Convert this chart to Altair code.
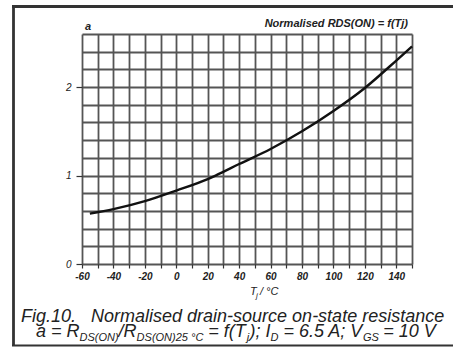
import altair as alt
import pandas as pd

# ---- data ----
temps = [-55, -40, -20, 0, 20, 25, 40, 60, 80, 100, 120, 140, 150]
ratio = [0.57, 0.62, 0.71, 0.83, 0.96, 1.0, 1.13, 1.30, 1.50, 1.73, 1.99, 2.30, 2.46]

x_grid = list(range(-60, 151, 10))
y_grid = [round(i * 0.2, 1) for i in range(14)]

df = pd.DataFrame({"T": temps, "a": ratio})

OX, OY = 82, 34          # plot origin in page pixels
W, H = 330, 230
FONT = "Liberation Sans"
INK = "#222"
NB = "\u00a0"

x_scale = alt.Scale(domain=[-60, 150], nice=False, zero=False)
y_scale = alt.Scale(domain=[0, 2.6], nice=False)

curve = alt.Chart(df).mark_line(color="#111", strokeWidth=2.4, interpolate="monotone").encode(
    x=alt.X("T:Q", scale=x_scale, axis=alt.Axis(
        values=x_grid, title=None, grid=True, gridColor="#555", gridWidth=1.8,
        domain=False, tickColor="#333", tickSize=4, tickWidth=1.2,
        labelExpr="(datum.value % 20 === 0 && datum.value <= 140) ? datum.value : ''",
        labelFont=FONT, labelFontSize=10, labelFontStyle="italic", labelFontWeight="bold",
        labelColor=INK, labelPadding=3, labelFlush=False, labelOverlap=False)),
    y=alt.Y("a:Q", scale=y_scale, axis=alt.Axis(
        values=y_grid, title=None, grid=True, gridColor="#555", gridWidth=1.8,
        domain=False, tickColor="#333", tickSize=6, tickWidth=1.2,
        tickOpacity={"condition": {"test": "datum.value % 1 === 0", "value": 1}, "value": 0},
        labelExpr="datum.value % 1 === 0 ? datum.value : ''",
        labelFont=FONT, labelFontSize=10, labelFontStyle="italic",
        labelColor=INK, labelPadding=5, labelFlush=False, labelOverlap=False)),
)


def txt(s, ax, ay, size, weight="normal", align="left", style="italic"):
    return alt.Chart(pd.DataFrame({"t": [s]})).mark_text(
        font=FONT, fontSize=size, fontStyle=style, fontWeight=weight, align=align,
        baseline="alphabetic", color=INK,
    ).encode(x=alt.value(ax - OX), y=alt.value(ay - OY), text="t:N")


def rule(x1, y1, x2, y2, w):
    return alt.Chart(pd.DataFrame({"k": [0]})).mark_rule(color="#333", strokeWidth=w).encode(
        x=alt.value(x1 - OX), x2=alt.value(x2 - OX), y=alt.value(y1 - OY), y2=alt.value(y2 - OY))


texts = [
    txt("a", 85, 30, 11, weight="bold"),
    txt("Normalised RDS(ON) = f(Tj)", 408, 27, 11, weight="bold", align="right"),
    # x axis title
    txt("T", 250, 295, 11),
    txt("j", 256, 298, 8),
    txt("/" + NB + "°C", 260, 295, 11),
    # caption line 1
    txt("Fig.10." + NB * 3 + "Normalised drain-source on-state resistance", 21, 322, 18),
    # caption line 2
    txt("a = R", 36, 337, 18),
    txt("DS(ON)", 79.5, 341, 11),
    txt("/R", 118.6, 337, 18),
    txt("DS(ON)25 °C", 136.6, 341, 11),
    txt("= f(T", 208.3, 337, 18),
    txt("j", 246.8, 341, 11),
    txt("); I", 249.5, 337, 18),
    txt("D", 270.5, 341, 11),
    txt("= 6.5 A; V", 283.4, 337, 18),
    txt("GS", 363, 341, 11),
    txt("= 10 V", 383.3, 337, 18),
]

frame = [
    rule(13.5, 6.5, 13.5, 346, 2.8),
    rule(12, 6.5, 460, 6.5, 2.8),
    rule(12, 345.5, 460, 345.5, 2.2),
]

chart = alt.layer(curve, *texts, *frame).properties(
    width=W, height=H,
    autosize=alt.AutoSizeParams(type="none"),
    padding={"left": OX, "top": OY, "right": 453 - OX - W, "bottom": 347 - OY - H},
    background="white",
).configure_view(stroke=None)

chart.save("out.html", embed_options={"renderer": "svg", "actions": False})
